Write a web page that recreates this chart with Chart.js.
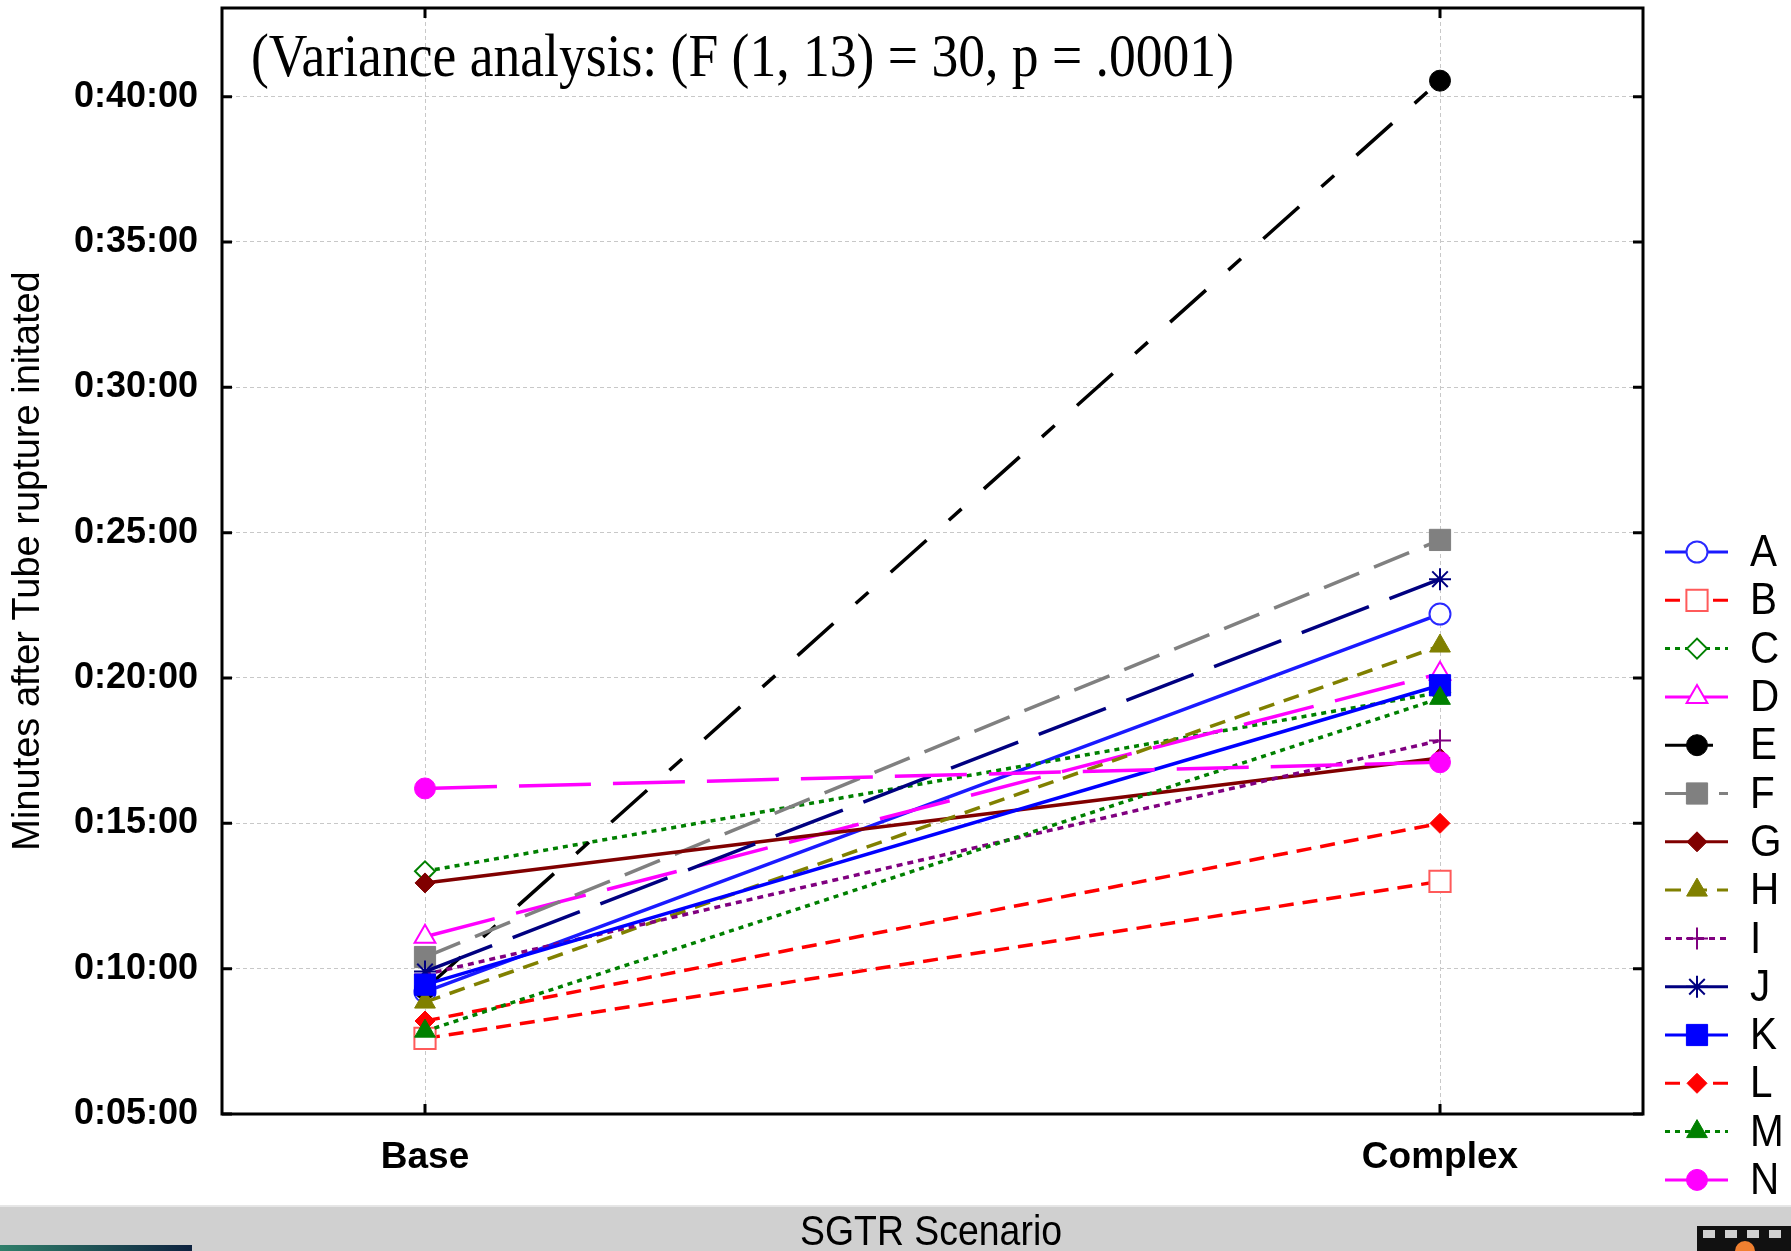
<!DOCTYPE html>
<html>
<head>
<meta charset="utf-8">
<script src="https://cdn.jsdelivr.net/npm/chart.js@4/dist/chart.umd.min.js"></script>
<style>
    html, body { margin: 0; padding: 0; background: #fff; }
    #wrap { width: 1791px; height: 1251px; position: relative; }
</style>
</head>
<body>
<div id="wrap"><canvas id="chart"></canvas></div>
<script>
// SGTR scenario: minutes after tube rupture initiated, per crew
const scenarios = ["Base", "Complex"]
const participants = ["A", "B", "C", "D", "E", "F", "G", "H", "I", "J", "K", "L", "M", "N"]
const baseMinutes = [9.2, 7.6, 13.35, 11.1, 9.3, 10.4, 12.95, 8.85, 9.8, 9.9, 9.45, 8.2, 7.85, 16.2]
const complexMinutes = [22.2, 13.0, 19.5, 20.15, 40.55, 24.75, 17.25, 21.1, 17.85, 23.4, 19.75, 15.0, 19.3, 17.1]
const yTicks = [5, 10, 15, 20, 25, 30, 35, 40]
const noteText = "(Variance analysis: (F (1, 13) = 30, p = .0001)"

// look of every series
const lineColors = ["#1a1aff", "#ff0000", "#008000", "#ff00ff", "#000000", "#808080", "#800000",
    "#808000", "#800080", "#000080", "#0000ff", "#ff0000", "#008000", "#ff00ff"]
const markerBorders = ["#2a2aff", "#ff5a5a", "#008000", "#ff00ff", "#000000", "#808080", "#800000",
    "#808000", "#800080", "#000080", "#0000ff", "#ff0000", "#008000", "#ff00ff"]
const markerShapes = ["circle", "rect", "rectRot", "triangle", "circle", "rect", "rectRot",
    "triangle", "cross", "star", "rect", "rectRot", "triangle", "circle"]
const markerOpen = [true, true, true, true, false, false, false, false, false, false, false, false, false, false]
const markerRadius = { circle: 10.5, rect: 15, rectRot: 10, triangle: 12, cross: 11, star: 11 }
const lineDashes = [[], [15, 9], [5, 5], [72, 22], [48, 30, 17, 30], [38, 16], [], [16, 10], [6, 5],
    [72, 22], [], [15, 9], [5, 5], [72, 22]]

const datasets = participants.map((name, i) => ({
    label: name,
    data: scenarios.map((s, j) => ({ x: j, y: j === 0 ? baseMinutes[i] : complexMinutes[i] })),
    borderColor: lineColors[i],
    borderWidth: 3.5,
    borderDash: lineDashes[i],
    tension: 0,
    fill: false,
    pointStyle: markerShapes[i],
    pointRadius: markerRadius[markerShapes[i]],
    pointHoverRadius: markerRadius[markerShapes[i]],
    pointBackgroundColor: markerOpen[i] ? "#ffffff" : markerBorders[i],
    pointBorderColor: markerBorders[i],
    pointBorderWidth: markerOpen[i] || markerShapes[i] === "cross" || markerShapes[i] === "star" ? 2 : 1,
    order: participants.length - 1 - i,
}))

function drawSqueezed(ctx, text, x, y, width) {
    const w = ctx.measureText(text).width
    ctx.save()
    ctx.translate(x, y)
    ctx.scale(width / w, 1)
    ctx.fillText(text, 0, 0)
    ctx.restore()
}

/**
 * Frame, inward ticks, note, legend and slide footer
 */
const decorations = {
    id: "decorations",
    afterLayout(chart) {
        // the point overflow padding pushes the plot down; pin its top edge
        const area = chart.chartArea
        const y = chart.scales.y
        area.top = 8
        area.height = area.bottom - area.top
        y.top = 8
        y.height = y.bottom - y.top
        y.configure()
    },
    afterDatasetsDraw(chart) {
        const { ctx, chartArea } = chart
        const { left, right, top, bottom } = chartArea
        ctx.save()
        ctx.strokeStyle = "#000"
        ctx.lineWidth = 3
        ctx.setLineDash([])
        ctx.strokeRect(left, top, right - left, bottom - top)
        ctx.beginPath()
        chart.scales.y.ticks.forEach((t) => {
            const y = chart.scales.y.getPixelForValue(t.value)
            ctx.moveTo(left, y); ctx.lineTo(left + 10, y)
            ctx.moveTo(right, y); ctx.lineTo(right - 10, y)
        })
        chart.scales.x.ticks.forEach((t) => {
            const x = chart.scales.x.getPixelForValue(t.value)
            ctx.moveTo(x, bottom); ctx.lineTo(x, bottom - 10)
            ctx.moveTo(x, top); ctx.lineTo(x, top + 10)
        })
        ctx.stroke()
        ctx.restore()
    },
    afterDraw(chart) {
        const { ctx } = chart
        ctx.save()

        // variance note
        ctx.fillStyle = "#000"
        ctx.font = "62px 'Liberation Serif', 'Times New Roman', serif"
        ctx.textBaseline = "alphabetic"
        ctx.textAlign = "left"
        drawSqueezed(ctx, noteText, 251, 76, 983)

        // legend: line + marker + letter
        chart.data.datasets.forEach((ds, i) => {
            const y = 552 + i * 48.3
            ctx.strokeStyle = ds.borderColor
            ctx.lineWidth = 3
            ctx.setLineDash(ds.borderDash)
            ctx.beginPath()
            ctx.moveTo(1665, y)
            ctx.lineTo(1728, y)
            ctx.stroke()
            ctx.setLineDash([])
            ctx.fillStyle = ds.pointBackgroundColor
            ctx.strokeStyle = ds.pointBorderColor
            ctx.lineWidth = ds.pointBorderWidth
            Chart.helpers.drawPoint(ctx, {
                pointStyle: ds.pointStyle, radius: ds.pointRadius, rotation: 0, borderWidth: ds.pointBorderWidth,
            }, 1697, y)
            ctx.fillStyle = "#000"
            ctx.font = "44px 'Liberation Sans', Arial, sans-serif"
            ctx.textBaseline = "middle"
            drawSqueezed(ctx, ds.label, 1750, y + 2, ctx.measureText(ds.label).width * 0.92)
        })

        // slide footer band
        ctx.fillStyle = "#d0d0d0"
        ctx.fillRect(0, 1207, 1791, 44)
        ctx.fillStyle = "#e6e6e6"
        ctx.fillRect(0, 1205, 1791, 2)
        ctx.fillStyle = "#000"
        ctx.font = "42px 'Liberation Sans', Arial, sans-serif"
        ctx.textBaseline = "alphabetic"
        drawSqueezed(ctx, "SGTR Scenario", 800, 1245, 262)
        const grad = ctx.createLinearGradient(0, 0, 192, 0)
        grad.addColorStop(0, "#2f7f6a")
        grad.addColorStop(1, "#0e2340")
        ctx.fillStyle = grad
        ctx.fillRect(0, 1245, 192, 6)
        ctx.fillStyle = "#111"
        ctx.fillRect(1697, 1226, 94, 25)
        ctx.fillStyle = "#d0d0d0"
        for (let k = 0; k < 4; k++) ctx.fillRect(1703 + k * 22, 1230, 12, 8)
        ctx.fillStyle = "#f08030"
        ctx.beginPath()
        ctx.arc(1745, 1251, 10, Math.PI, 2 * Math.PI)
        ctx.fill()
        ctx.restore()
    },
}

const gridStyle = {
    color: "#c8c8c8",
    lineWidth: 1,
    drawTicks: false,
}

new Chart(document.getElementById("chart"), {
    type: "line",
    data: { datasets },
    options: {
        responsive: true,
        maintainAspectRatio: false,
        animation: false,
        events: [],
        layout: { padding: { top: 8, right: 148, left: 0, bottom: 0 } },
        plugins: {
            legend: { display: false },
            tooltip: { enabled: false },
        },
        scales: {
            x: {
                type: "linear",
                min: -0.2,
                max: 1.2,
                afterFit: (scale) => {
                    scale.height = 137
                    scale.paddingLeft = 0
                    scale.paddingRight = 0
                },
                afterBuildTicks: (scale) => { scale.ticks = scenarios.map((s, j) => ({ value: j })) },
                border: { display: false, dash: [4, 3] },
                grid: gridStyle,
                ticks: {
                    padding: 22,
                    color: "#000",
                    font: { family: "'Liberation Sans', Arial, sans-serif", size: 37, weight: "bold" },
                    callback: (v) => scenarios[v],
                },
            },
            y: {
                type: "linear",
                min: 5,
                max: 43.05,
                afterFit: (scale) => {
                    scale.width = 222
                    scale.paddingTop = 0
                    scale.paddingBottom = 0
                },
                afterBuildTicks: (scale) => { scale.ticks = yTicks.map((v) => ({ value: v })) },
                border: { display: false, dash: [4, 3] },
                grid: gridStyle,
                ticks: {
                    padding: 24,
                    color: "#000",
                    font: { family: "'Liberation Sans', Arial, sans-serif", size: 36, weight: "bold" },
                    callback: (v) => `0:${String(v).padStart(2, "0")}:00`,
                },
                title: {
                    display: true,
                    text: "Minutes after Tube rupture initated",
                    color: "#000",
                    padding: { top: 6, bottom: 0 },
                    font: { family: "'Liberation Sans', Arial, sans-serif", size: 38 },
                },
            },
        },
    },
    plugins: [decorations],
})
</script>
</body>
</html>
